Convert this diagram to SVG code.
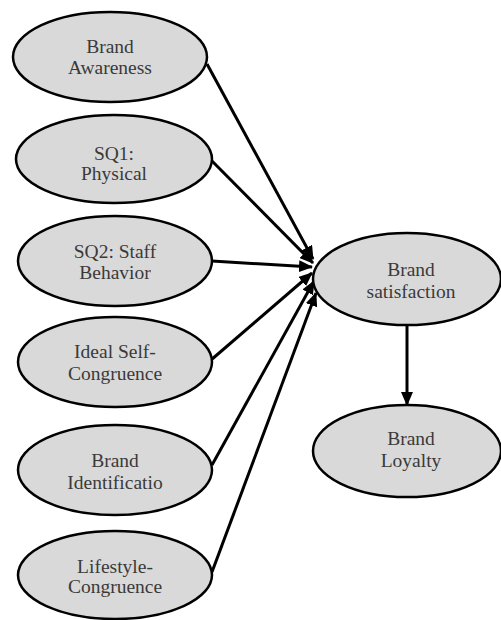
<svg xmlns="http://www.w3.org/2000/svg" width="501" height="620" viewBox="0 0 501 620">
<defs>
<style>
.node ellipse{fill:#d9d9d9;stroke:#000;stroke-width:2.5}
.node text{font-family:'Liberation Serif','DejaVu Serif',serif;font-size:19.5px;fill:#3a3a3a;text-anchor:middle}
.edges line{stroke:#000;stroke-width:3;marker-end:url(#ah)}
</style>
<marker id="ah" markerUnits="userSpaceOnUse" markerWidth="14" markerHeight="12" refX="13" refY="6" orient="auto">
<path d="M0,0 L14,6 L0,12 Z" fill="#000"/>
</marker>
</defs>
<rect width="501" height="620" fill="#fff"/>
<g class="edges">
<line x1="207" y1="64" x2="313" y2="259"/>
<line x1="211" y1="160" x2="313" y2="263"/>
<line x1="212" y1="261" x2="312" y2="267"/>
<line x1="211" y1="360" x2="312" y2="273"/>
<line x1="212" y1="465" x2="314" y2="281"/>
<line x1="212" y1="572" x2="316" y2="293"/>
<line x1="407" y1="326" x2="407" y2="405"/>
</g>
<g id="brand-awareness" class="node"><ellipse cx="110" cy="57" rx="97" ry="45"/><text x="110" y="53">Brand</text><text x="110" y="74">Awareness</text></g>
<g id="sq1" class="node"><ellipse cx="114" cy="159" rx="98" ry="44"/><text x="114" y="160">SQ1:</text><text x="114" y="180">Physical</text></g>
<g id="sq2" class="node"><ellipse cx="115" cy="261" rx="97" ry="45"/><text x="115" y="258">SQ2: Staff</text><text x="115" y="279">Behavior</text></g>
<g id="ideal-self" class="node"><ellipse cx="115" cy="362" rx="97" ry="45"/><text x="115" y="358">Ideal Self-</text><text x="115" y="380">Congruence</text></g>
<g id="brand-identification" class="node"><ellipse cx="115" cy="470" rx="97" ry="45"/><text x="115" y="467">Brand</text><text x="115" y="489">Identificatio</text></g>
<g id="lifestyle" class="node"><ellipse cx="115" cy="575" rx="97" ry="44"/><text x="115" y="573">Lifestyle-</text><text x="115" y="593">Congruence</text></g>
<g id="brand-satisfaction" class="node"><ellipse cx="407" cy="279" rx="94" ry="46"/><text x="411" y="276">Brand</text><text x="411" y="298">satisfaction</text></g>
<g id="brand-loyalty" class="node"><ellipse cx="407" cy="451" rx="94" ry="46"/><text x="411" y="445">Brand</text><text x="411" y="467">Loyalty</text></g>
</svg>
